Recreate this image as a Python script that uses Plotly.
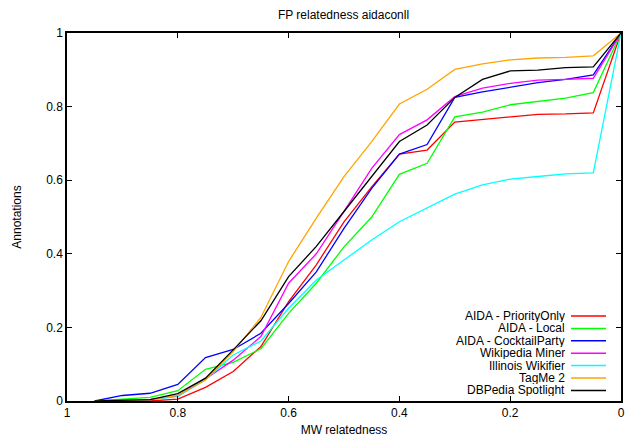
import plotly.graph_objects as go

x_vals = [0.95, 0.9, 0.85, 0.8, 0.75, 0.7, 0.65, 0.6, 0.55, 0.5, 0.45, 0.4,
          0.35, 0.3, 0.25, 0.2, 0.15, 0.1, 0.05, 0.0]

names = ["AIDA - PriorityOnly", "AIDA - Local", "AIDA - CocktailParty",
         "Wikipedia Miner", "Illinois Wikifier", "TagMe 2", "DBPedia Spotlight"]
colors = ["#ff0000", "#00ff00", "#0000ff", "#ff00ff", "#00ffff", "#ffa500", "#000000"]

priority_only = [0.0, 0.0, 0.0, 0.005, 0.037, 0.08, 0.148, 0.27, 0.37, 0.487, 0.582, 0.671,
                 0.682, 0.758, 0.765, 0.773, 0.779, 0.78, 0.783, 1.0]
local = [0.0, 0.006, 0.01, 0.028, 0.086, 0.105, 0.142, 0.238, 0.32, 0.419, 0.50, 0.616,
         0.646, 0.772, 0.785, 0.805, 0.815, 0.823, 0.838, 1.0]
cocktail = [0.0, 0.015, 0.021, 0.045, 0.118, 0.14, 0.184, 0.265, 0.351, 0.469, 0.578, 0.671,
            0.697, 0.825, 0.84, 0.852, 0.865, 0.874, 0.886, 1.0]
wiki_miner = [0.0, 0.002, 0.004, 0.014, 0.06, 0.111, 0.175, 0.32, 0.40, 0.515, 0.632, 0.724,
              0.764, 0.827, 0.85, 0.863, 0.872, 0.874, 0.877, 1.0]
illinois = [0.0, 0.002, 0.004, 0.012, 0.058, 0.125, 0.163, 0.252, 0.329, 0.383, 0.4375, 0.487,
            0.524, 0.562, 0.587, 0.603, 0.61, 0.617, 0.62, 1.0]
tagme = [0.0, 0.002, 0.004, 0.015, 0.057, 0.134, 0.227, 0.379, 0.497, 0.61, 0.705, 0.807,
         0.847, 0.901, 0.916, 0.927, 0.932, 0.934, 0.938, 1.0]
spotlight = [0.0, 0.002, 0.004, 0.02, 0.062, 0.139, 0.218, 0.338, 0.42, 0.515, 0.61, 0.705,
             0.75, 0.825, 0.874, 0.897, 0.899, 0.906, 0.908, 1.0]

series = [priority_only, local, cocktail, wiki_miner, illinois, tagme, spotlight]

x_ticks = [1, 0.8, 0.6, 0.4, 0.2, 0]
x_tick_text = ["1", "0.8", "0.6", "0.4", "0.2", "0"]
y_ticks = [0, 0.2, 0.4, 0.6, 0.8, 1]
y_tick_text = ["0", "0.2", "0.4", "0.6", "0.8", "1"]

FONT = "Liberation Sans, Arial, Helvetica, sans-serif"

fig = go.Figure()
for name, color, ys in zip(names, colors, series):
    fig.add_trace(go.Scatter(x=x_vals, y=ys, mode="lines", name=name,
                             line=dict(color=color, width=1.3), showlegend=False))

# custom gnuplot-style legend: right-aligned text, line sample on right
L, R, T, B = 67, 6, 33, 36
W, H = 627, 437
pw, ph = W - L - R, H - T - B
row0 = 316
step = 12.4
for i, (name, color) in enumerate(zip(names, colors)):
    ypix = row0 + i * step
    yp = (H - B - ypix) / ph
    x0 = (571 - L) / pw
    x1 = (606 - L) / pw
    fig.add_shape(type="line", xref="paper", yref="paper", x0=x0, x1=x1, y0=yp, y1=yp,
                  line=dict(color=color, width=1.5))
    fig.add_annotation(xref="paper", yref="paper", x=(566 - L) / pw, y=yp, text=name,
                       showarrow=False, xanchor="right", yanchor="middle",
                       height=12, borderpad=0,
                       font=dict(family=FONT, size=12, color="#000000"))

fig.update_layout(
    width=W, height=H,
    margin=dict(l=L, r=R, t=T, b=B),
    paper_bgcolor="white", plot_bgcolor="white",
    font=dict(family=FONT, size=12, color="#000000"),
    title=dict(text="FP relatedness aidaconll", x=343.5 / W, xanchor="center",
               y=1 - 15 / H, yanchor="middle", font=dict(family=FONT, size=12)),
)
fig.update_xaxes(range=[1, 0], tickvals=x_ticks, ticktext=x_tick_text,
                 ticks="inside", ticklen=5, tickcolor="#000", tickwidth=1,
                 showline=True, linecolor="#000", linewidth=1.5, mirror="ticks",
                 showgrid=False, zeroline=False, automargin=False,
                 title=dict(text="MW relatedness", standoff=7, font=dict(size=12)))
fig.update_yaxes(range=[0, 1], tickvals=y_ticks, ticktext=y_tick_text,
                 ticks="inside", ticklen=5, tickcolor="#000", tickwidth=1,
                 showline=True, linecolor="#000", linewidth=1.5, mirror="ticks",
                 showgrid=False, zeroline=False, automargin=False,
                 title=dict(text="Annotations", standoff=22, font=dict(size=12)))

fig.write_html("out.html", config={"displayModeBar": False},
               post_script="document.body.style.margin='0';document.body.style.overflow='hidden';")
